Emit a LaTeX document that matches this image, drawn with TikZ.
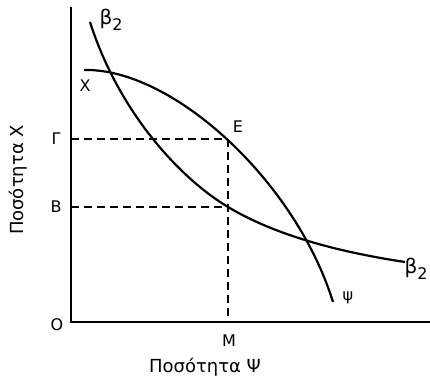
\documentclass[tikz,border=0pt]{standalone}
\usepackage{fontspec}
\setmainfont{DejaVu Sans}
\usetikzlibrary{positioning}

\begin{document}
\begin{tikzpicture}[
  x=0.5pt, y=-0.5pt,
  axis/.style={line width=1.4pt},
  curve/.style={line width=1.1pt},
  guide/.style={dashed, line width=0.9pt, dash pattern=on 4pt off 2.5pt},
  lbl/.style={font=\footnotesize, inner sep=1pt},
  axlabel/.style={font=\small, inner sep=1pt}
]
\useasboundingbox (0,0) rectangle (430,383);
\coordinate (o) at (71,322);
\coordinate (ytop) at (71,7);
\coordinate (xend) at (430,322);
\coordinate (g) at (71,139);
\coordinate (b) at (71,207);
\coordinate (e) at (228,139);
\coordinate (bp) at (228,207);
\coordinate (m) at (228,322);
\coordinate (ppcstart) at (84,70);
\coordinate (ppcend) at (333,302);
\coordinate (betastart) at (90,22);
\coordinate (betaend) at (405,262);
\draw[axis] (ytop) -- (o) -- (xend);
\draw[guide] (g) -- (e);
\draw[guide] (b) -- (bp);
\draw[guide] (e) -- (m);
% production possibility curve
\draw[curve] (ppcstart) .. controls (172,68) and (295,180) .. (ppcend);
% beta_2 curve
\draw[curve] (betastart) .. controls (118,110) and (178,177) .. (bp)
  .. controls (278,237) and (345,253) .. (betaend);
\node[lbl] (lo) at (57,325) {O};
\node[lbl] (lb) at (56,207) {Β};
\node[lbl] (lg) at (56,139) {Γ};
\node[lbl] (lx) at (85,86) {Χ};
\node[lbl] (le) at (238,127) {Ε};
\node[lbl] (lm) at (229,341) {Μ};
\node[lbl] (lpsi) at (348,298) {ψ};
\node[font=\normalsize, inner sep=1pt] (lbeta1) at (111,20) {β\raisebox{-0.6ex}{\footnotesize 2}};
\node[font=\normalsize, inner sep=1pt] (lbeta2) at (416,269) {β\raisebox{-0.6ex}{\footnotesize 2}};
\node[axlabel, rotate=90] (ylab) at (18,180) {Ποσότητα Χ};
\node[axlabel] (xlab) at (205,367) {Ποσότητα Ψ};
\end{tikzpicture}
\end{document}
